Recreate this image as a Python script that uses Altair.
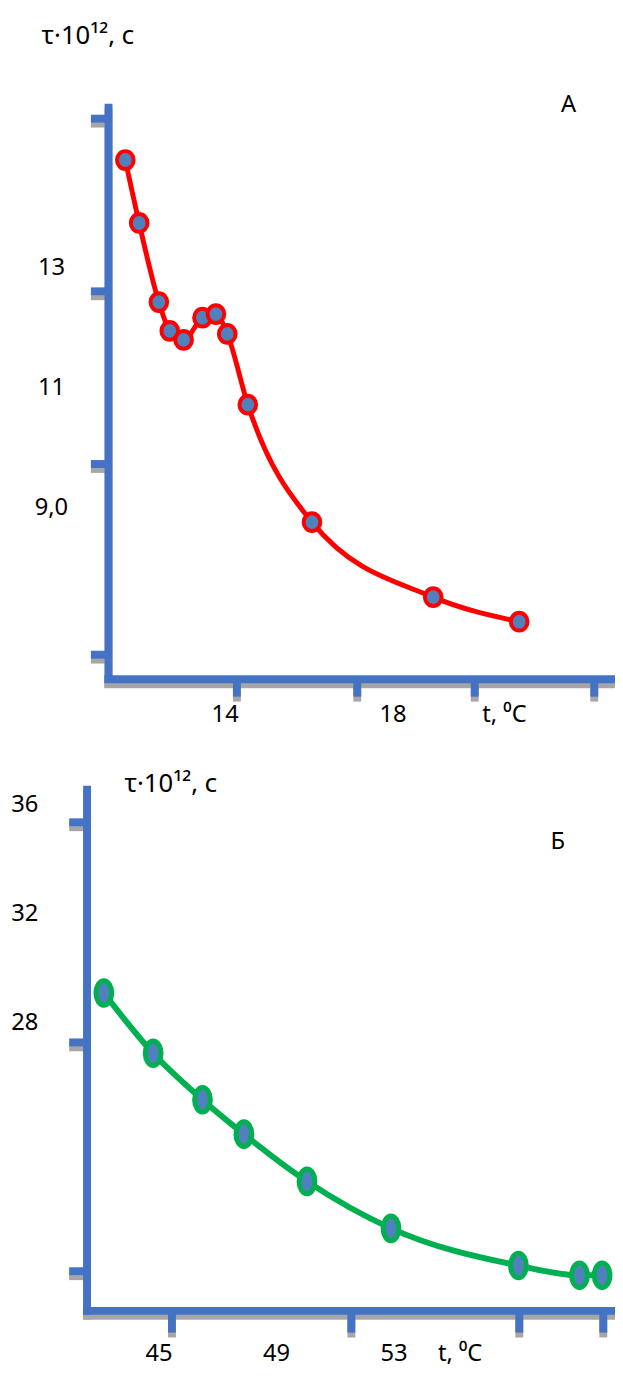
import altair as alt
import pandas as pd

FONT = "Noto Sans"
FS = 24
FS_TITLE = 26
AXIS_BLUE = "#4472C4"
SHADOW = "#A6A6A6"
POINT_FILL = "#4F81BD"
W, H = 615, 1362

# ---- Panel A (red) ----
a_temp = [11.62, 11.95, 12.42, 12.68, 13.01, 13.46, 13.78, 14.05, 14.54, 16.07, 18.96, 21.01]
a_tau = [14.81, 13.76, 12.44, 11.96, 11.81, 12.18, 12.24, 11.91, 10.73, 8.77, 7.52, 7.11]

a_ylabels = ["13", "11", "9,0"]
a_ylabel_vals = [13, 11, 9]
a_xlabels = ["14", "18"]
a_xlabel_vals = [14, 18]
# drawn tick marks (offset from labels in the original figure)
a_xticks = [14.28, 17.15, 19.95, 22.80]
a_yticks = [15.50, 12.62, 9.74, 6.56]

# ---- Panel Б (green) ----
b_temp = [43.12, 44.80, 46.48, 47.89, 50.04, 52.90, 57.24, 59.32, 60.09]
b_tau = [29.09, 26.87, 25.16, 23.89, 22.15, 20.42, 19.05, 18.69, 18.69]

b_ylabels = ["36", "32", "28"]
b_ylabel_vals = [36, 32, 28]
b_xlabels = ["45", "49", "53"]
b_xlabel_vals = [45, 49, 53]
b_xticks = [45.44, 51.55, 57.27, 60.13]
b_yticks = [35.38, 27.27, 18.84]

TITLE = "τ·10¹², с"
XUNIT = "t, ⁰C"


def frame(y_axis_t, y_top, y_bottom, x_axis_v, x_left, x_right, ytick_left, xtick_bottom, xticks, yticks):
    rows = [
        dict(x=y_axis_t, x2=y_axis_t, y=y_top, y2=y_bottom),
        dict(x=x_left, x2=x_right, y=x_axis_v, y2=x_axis_v),
    ]
    for v in yticks:
        rows.append(dict(x=ytick_left, x2=y_axis_t, y=v, y2=v))
    for t in xticks:
        rows.append(dict(x=t, x2=t, y=x_axis_v, y2=xtick_bottom))
    return pd.DataFrame(rows)


def panel(temp, tau, color, line_w, pt_stroke, pt_size, pt_shape, xdom, ydom,
          segs, ylab, ylabv, ylab_px, xlab, xlabv, xlab_py, unit_px, title_pos, letter, letter_pos):
    xs = alt.Scale(domain=xdom, nice=False, zero=False)
    ys = alt.Scale(domain=ydom, nice=False, zero=False)

    def X(f):
        return alt.X(f, type="quantitative", scale=xs, axis=None)

    def Y(f):
        return alt.Y(f, type="quantitative", scale=ys, axis=None)

    pts = pd.DataFrame({"t": temp, "tau": tau})

    shadow = alt.Chart(segs).mark_rule(color=SHADOW, strokeWidth=8, yOffset=5, y2Offset=5,
                                       strokeCap="butt").encode(x=X("x"), x2="x2", y=Y("y"), y2="y2")
    axes = alt.Chart(segs).mark_rule(color=AXIS_BLUE, strokeWidth=8,
                                     strokeCap="butt").encode(x=X("x"), x2="x2", y=Y("y"), y2="y2")
    line = alt.Chart(pts).mark_line(color=color, strokeWidth=line_w,
                                    interpolate="monotone").encode(x=X("t"), y=Y("tau"))
    points = alt.Chart(pts).mark_point(shape=pt_shape, size=pt_size, fill=POINT_FILL, fillOpacity=1,
                                       stroke=color, strokeWidth=pt_stroke, opacity=1).encode(
        x=X("t"), y=Y("tau"))

    ylabels = alt.Chart(pd.DataFrame({"v": ylabv, "s": ylab})).mark_text(
        font=FONT, fontSize=FS, align="center", baseline="middle", color="black").encode(
        x=alt.value(ylab_px), y=Y("v"), text="s:N")
    xlabels = alt.Chart(pd.DataFrame({"v": xlabv, "s": xlab})).mark_text(
        font=FONT, fontSize=FS, align="center", baseline="middle", color="black").encode(
        x=X("v"), y=alt.value(xlab_py), text="s:N")

    one = pd.DataFrame({"a": [0]})

    def note(txt, px, py, fs=FS):
        return alt.Chart(one).mark_text(text=txt, font=FONT, fontSize=fs, align="center",
                                        baseline="middle", color="black").encode(
            x=alt.value(px), y=alt.value(py))

    layers = [shadow, axes, line, points, ylabels, xlabels,
              note(XUNIT, unit_px, xlab_py),
              note(TITLE, title_pos[0], title_pos[1], FS_TITLE),
              note(letter, letter_pos[0], letter_pos[1])]
    return alt.layer(*layers)


ELLIPSE_A = "M -0.94 0 A 0.94 1 0 1 0 0.94 0 A 0.94 1 0 1 0 -0.94 0 Z"
ELLIPSE_B = "M -0.64 0 A 0.64 1 0 1 0 0.64 0 A 0.64 1 0 1 0 -0.64 0 Z"

segA = frame(11.22, 15.75, 6.09, 6.15, 11.12, 23.294, 10.80, 5.86, a_xticks, a_yticks)
segB = frame(42.55, 36.73, 17.24, 17.38, 42.41, 60.529, 41.94, 16.58, b_xticks, b_yticks)

pA = panel(a_temp, a_tau, "#FF0000", 5, 4, 324, ELLIPSE_A,
           [8.8235, 23.294], [-5.2223, 17.1975],
           segA, a_ylabels, a_ylabel_vals, 44, a_xlabels, a_xlabel_vals, 707, 503,
           (81, 19.5), "А", (568, 89))

pB = panel(b_temp, b_tau, "#00B050", 6, 5, 625, ELLIPSE_B,
           [39.857, 60.529], [15.527, 65.055],
           segB, b_ylabels, b_ylabel_vals, 17, b_xlabels, b_xlabel_vals, 1355, 458,
           (165, 777.5), "Б", (557, 836))

chart = alt.layer(pA, pB).resolve_scale(x="independent", y="independent").properties(
    width=W, height=H, padding=0, autosize=alt.AutoSizeParams(type="none")
).configure_view(stroke=None)

chart.save("out.html", embed_options={"renderer": "svg", "actions": False})
